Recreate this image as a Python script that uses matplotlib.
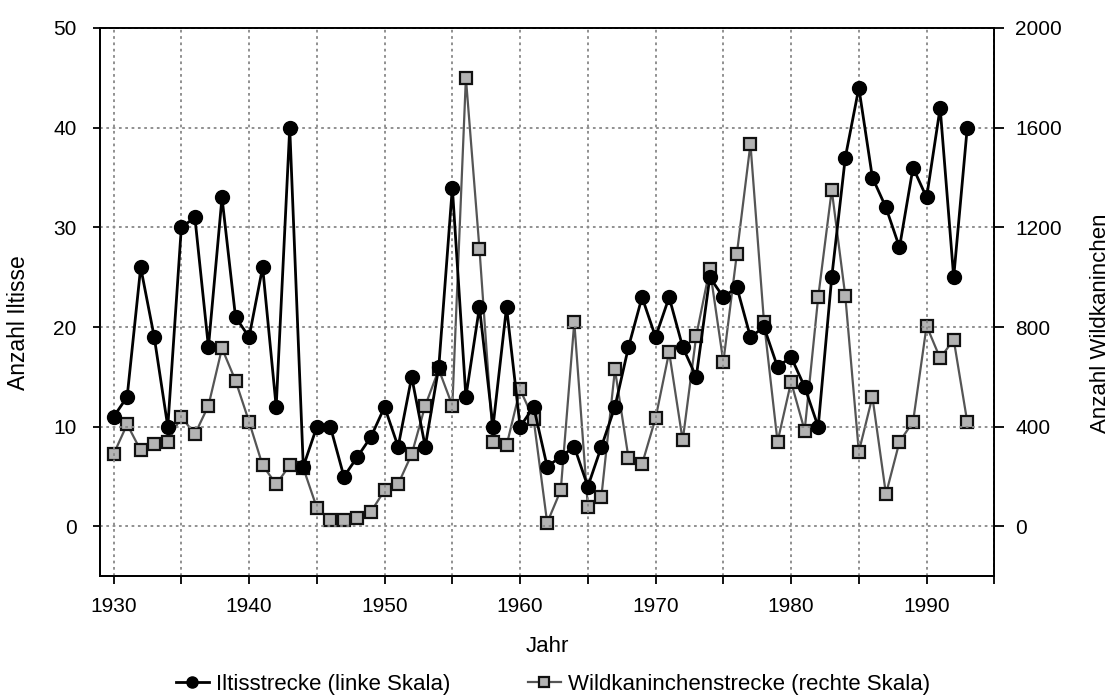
import numpy as np
import matplotlib
matplotlib.use("Agg")
import matplotlib.pyplot as plt
from matplotlib.ticker import MultipleLocator

plt.rcParams['font.family'] = ['Liberation Sans', 'DejaVu Sans']

# hunting bag per year
jahre = list(range(1930, 1994))

iltis = [11, 13, 26, 19, 10, 30, 31, 18, 33, 21,
         19, 26, 12, 40, 6, 10, 10, 5, 7, 9,
         12, 8, 15, 8, 16, 34, 13, 22, 10, 22,
         10, 12, 6, 7, 8, 4, 8, 12, 18, 23,
         19, 23, 18, 15, 25, 23, 24, 19, 20, 16,
         17, 14, 10, 25, 37, 44, 35, 32, 28, 36,
         33, 42, 25, 40]

kaninchen = [290, 410, 305, 330, 340, 440, 370, 485, 715, 585,
             420, 245, 170, 245, 235, 75, 25, 25, 35, 60,
             145, 170, 290, 485, 630, 485, 1800, 1115, 340, 325,
             550, 430, 15, 145, 820, 80, 120, 630, 275, 250,
             435, 700, 345, 765, 1035, 660, 1095, 1535, 820, 340,
             580, 385, 920, 1350, 925, 300, 520, 130, 340, 420,
             805, 675, 750, 420]

fig = plt.figure(figsize=(11.19, 6.98), dpi=100)
ax1 = fig.add_axes([0.0894, 0.1743, 0.7992, 0.7856])
ax2 = ax1.twinx()

# rabbits on the right axis, drawn underneath the polecat series
ax2.plot(jahre, kaninchen, color='#555555', linewidth=1.6, marker='s',
         markersize=9, markerfacecolor='#b3b3b3', markeredgecolor='#111111',
         markeredgewidth=1.6, label='Wildkaninchenstrecke (rechte Skala)')
ax1.plot(jahre, iltis, color='black', linewidth=2, marker='o',
         markersize=10, markerfacecolor='black', markeredgecolor='black',
         label='Iltisstrecke (linke Skala)')

ax1.set_zorder(ax2.get_zorder() + 1)
ax1.patch.set_visible(False)

ax1.set_xlim(1929, 1995)
ax1.set_ylim(-5, 50)
ax2.set_ylim(-200, 2000)

ax1.set_xticks(np.arange(1930, 1995, 10))
ax1.xaxis.set_minor_locator(MultipleLocator(5))
ax1.set_yticks(np.arange(0, 51, 10))
ax2.set_yticks(np.arange(0, 2001, 400))

ax1.grid(True, which='both', axis='x', linestyle=(0, (1.5, 2)), color='#888888', linewidth=1.3)
ax1.grid(True, which='major', axis='y', linestyle=(0, (1.5, 2)), color='#888888', linewidth=1.3)

for ax in (ax1, ax2):
    ax.tick_params(axis='both', which='both', direction='out', length=5,
                   width=1.3, labelsize=15, color='black')
    for sp in ax.spines.values():
        sp.set_linewidth(1.3)
        sp.set_color('black')
ax1.tick_params(axis='x', which='both', length=6, pad=9)
ax1.tick_params(axis='y', pad=12)
ax2.tick_params(axis='y', length=7, pad=8)

ax1.set_xlabel('Jahr', fontsize=16, va='top')
ax1.xaxis.set_label_coords(0.5, -0.108)
ax1.set_ylabel('Anzahl Iltisse', fontsize=16.5)
ax1.yaxis.set_label_coords(-0.078, 0.462)
ax2.set_ylabel('Anzahl Wildkaninchen', fontsize=16)
ax2.yaxis.set_label_coords(1.107, 0.462)

h1, l1 = ax1.get_legend_handles_labels()
h2, l2 = ax2.get_legend_handles_labels()
fig.legend(h1 + h2, l1 + l2, loc='center', bbox_to_anchor=(0.494, 0.019),
           ncol=2, frameon=False, fontsize=16, handlelength=1.5,
           columnspacing=3.5, handletextpad=0.3, markerscale=0.8,
           borderpad=0.1)

fig.savefig('out.png', dpi=100)
